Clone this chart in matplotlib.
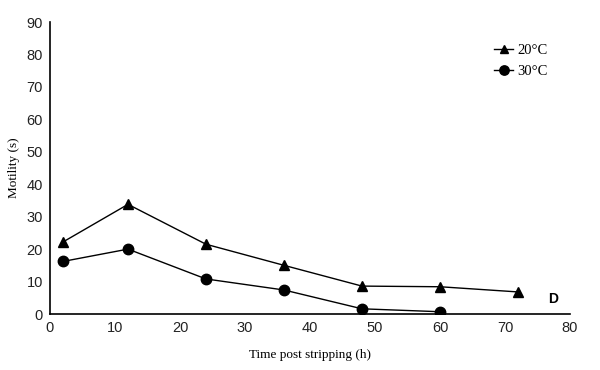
import matplotlib
matplotlib.use("Agg")
import matplotlib.pyplot as plt

time_20 = [2, 12, 24, 36, 48, 60, 72]
motility_20 = [22.2, 33.8, 21.5, 15.0, 8.6, 8.4, 6.8]
time_30 = [2, 12, 24, 36, 48, 60]
motility_30 = [16.2, 20.0, 10.8, 7.4, 1.6, 0.7]
x_ticks = [0, 10, 20, 30, 40, 50, 60, 70, 80]
y_ticks = [0, 10, 20, 30, 40, 50, 60, 70, 80, 90]

fig = plt.figure(figsize=(6, 3.7), dpi=100)
ax = fig.add_axes([50/600, 56/370, 520/600, 292/370])

l1, = ax.plot(time_20, motility_20, color='black', lw=1, marker='^', ms=7, label='20°C')
l2, = ax.plot(time_30, motility_30, color='black', lw=1, marker='o', ms=7.5, label='30°C')

ax.set_xlim(0, 80)
ax.set_ylim(0, 90)
ax.set_xticks(x_ticks)
ax.set_yticks(y_ticks)
ax.tick_params(length=0, labelsize=10.5, pad=5, labelcolor='#222222')
for lab in ax.get_xticklabels() + ax.get_yticklabels():
    lab.set_fontfamily('Liberation Sans')
ax.spines['top'].set_visible(False)
ax.spines['right'].set_visible(False)
ax.spines['left'].set_linewidth(1.2)
ax.spines['bottom'].set_linewidth(1.2)

ax.set_xlabel('Time post stripping (h)', family='Liberation Serif', fontsize=9.5, labelpad=10)
ax.set_ylabel('Motility (s)', family='Liberation Serif', fontsize=9.5, labelpad=5)

ax.text(77.4, 4.6, 'D', family='Liberation Sans', fontweight='bold', fontsize=10,
        ha='center', va='center')

leg = fig.legend(handles=[l1, l2], loc='upper left', bbox_to_anchor=(481/600, 1 - 31/370),
                 frameon=False, handlelength=1.3, handletextpad=0.3, labelspacing=0.5,
                 prop={'family': 'Liberation Serif', 'size': 10.5}, markerscale=0.9)

fig.savefig('out.png', dpi=100)
